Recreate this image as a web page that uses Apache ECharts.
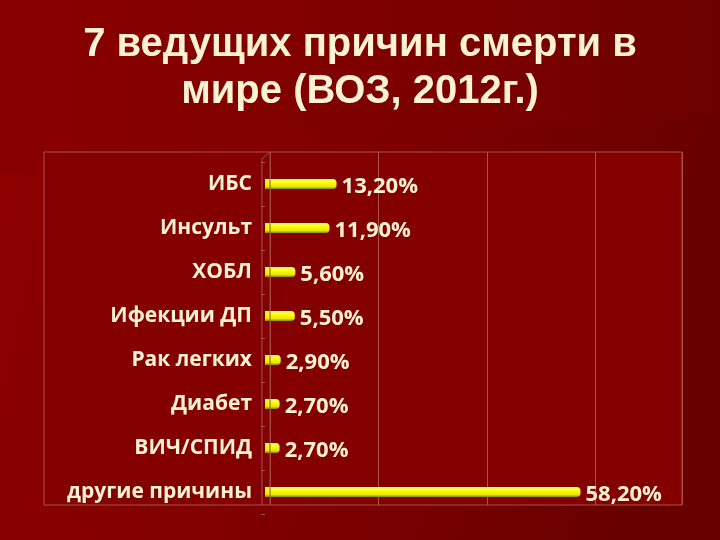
<!DOCTYPE html>
<html>
<head>
<meta charset="utf-8">
<script src="https://cdn.jsdelivr.net/npm/echarts@6/dist/echarts.min.js"></script>
<style>html,body{margin:0;padding:0;background:#7a0000;}#c{width:720px;height:540px;}</style>
</head>
<body>
<div id="c"></div>
<script>
const titleLines = ['7 ведущих причин смерти в', 'мире (ВОЗ, 2012г.)'];
const categories = ['ИБС', 'Инсульт', 'ХОБЛ', 'Ифекции ДП', 'Рак легких', 'Диабет', 'ВИЧ/СПИД', 'другие причины'];
const values = [13.2, 11.9, 5.6, 5.5, 2.9, 2.7, 2.7, 58.2];
const axisMax = 76;
const axisInterval = 20;

const cream = '#fdf2d2';
const chart = echarts.init(document.getElementById('c'), null, {renderer: 'canvas'});
chart.setOption({
  backgroundColor: new echarts.graphic.LinearGradient(0, 0, 1, 0.3, [
    {offset: 0, color: '#8e0000'},
    {offset: 0.6, color: '#7c0000'},
    {offset: 1, color: '#680000'}
  ]),
  animation: false,
  graphic: [
    {type: 'polygon', z: -20, shape: {points: [[0, 0], [720, 0], [720, 115], [300, 140], [0, 175]]},
     style: {fill: new echarts.graphic.LinearGradient(0, 0, 1, 0, [
       {offset: 0, color: '#8a0000'}, {offset: 0.7, color: '#7a0000'}, {offset: 1, color: '#6c0000'}])}},
    {type: 'rect', z: -10, shape: {x: 44, y: 152, width: 638, height: 353},
     style: {fill: '#840000', stroke: '#a8524a', lineWidth: 1}},
    {type: 'line', z: 5, shape: {x1: 262, y1: 159, x2: 262, y2: 505}, style: {stroke: '#a8524a', lineWidth: 1}},
    {type: 'line', z: 5, shape: {x1: 262, y1: 159, x2: 270, y2: 152}, style: {stroke: '#a8524a', lineWidth: 1}},
    {type: 'line', z: 5, shape: {x1: 270, y1: 152, x2: 270, y2: 505}, style: {stroke: '#9a453e', lineWidth: 1}},
    {type: 'text', z: 10, x: 360, y: 65, style: {text: titleLines[0], fill: cream,
      font: 'bold 40px "Liberation Sans", Arial, sans-serif', textAlign: 'center', textVerticalAlign: 'bottom',
      shadowColor: 'rgba(0,0,0,0.5)', shadowOffsetX: 2, shadowOffsetY: 2, shadowBlur: 2}},
    {type: 'text', z: 10, x: 360, y: 112, style: {text: titleLines[1], fill: cream,
      font: 'bold 40px "Liberation Sans", Arial, sans-serif', textAlign: 'center', textVerticalAlign: 'bottom',
      shadowColor: 'rgba(0,0,0,0.5)', shadowOffsetX: 2, shadowOffsetY: 2, shadowBlur: 2}}
  ],
  grid: [
    {left: 270, right: 38, top: 152, bottom: 35},
    {left: 265, right: 43, top: 162, bottom: 26}
  ],
  xAxis: [
    {gridIndex: 0, type: 'value', min: 0, max: axisMax, interval: axisInterval,
     axisLabel: {show: false}, axisLine: {show: false}, axisTick: {show: false},
     splitLine: {show: true, lineStyle: {color: '#a8524a', width: 1}}},
    {gridIndex: 1, type: 'value', min: 0, max: axisMax, interval: axisInterval,
     axisLabel: {show: false}, axisLine: {show: false}, axisTick: {show: false}, splitLine: {show: false}}
  ],
  yAxis: [
    {gridIndex: 0, type: 'value', show: false},
    {gridIndex: 1, type: 'category', data: categories, inverse: true, offset: 3,
     axisLine: {show: false},
     axisTick: {show: true, length: 4, lineStyle: {color: '#a8524a'}},
     axisLabel: {color: cream, fontFamily: '"Open Sans", Lato, sans-serif', fontWeight: 'bold', fontSize: 21, margin: 10}}
  ],
  series: [{
    type: 'bar', xAxisIndex: 1, yAxisIndex: 1, data: values, barWidth: 10,
    itemStyle: {
      borderRadius: [0, 4, 4, 0],
      color: new echarts.graphic.LinearGradient(0, 0, 0, 1, [
        {offset: 0, color: '#ffff90'},
        {offset: 0.3, color: '#ffff10'},
        {offset: 0.75, color: '#e8e800'},
        {offset: 1, color: '#8a8a00'}
      ])
    },
    label: {
      show: true, position: 'right', distance: 5, offset: [0, 3],
      color: cream, fontFamily: '"Open Sans", Lato, sans-serif', fontWeight: 'bold', fontSize: 22,
      formatter: p => p.value.toFixed(2).replace('.', ',') + '%'
    }
  }]
});
</script>
</body>
</html>
